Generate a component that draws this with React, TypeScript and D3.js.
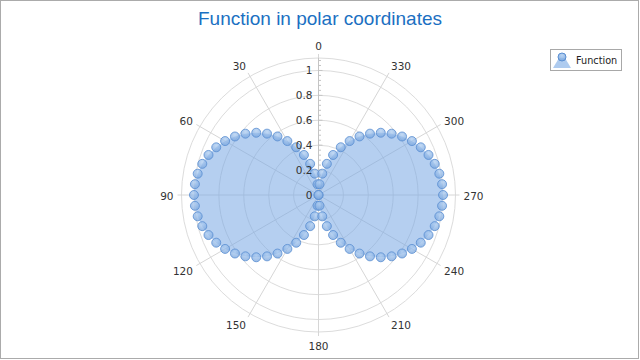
import React from "react";
import * as d3 from "d3";

const angles: number[] = [
  0, 5, 10, 15, 20, 25, 30, 35, 40, 45, 50, 55, 60, 65, 70, 75, 80, 85,
  90, 95, 100, 105, 110, 115, 120, 125, 130, 135, 140, 145, 150, 155, 160, 165, 170, 175,
  180, 185, 190, 195, 200, 205, 210, 215, 220, 225, 230, 235, 240, 245, 250, 255, 260, 265,
  270, 275, 280, 285, 290, 295, 300, 305, 310, 315, 320, 325, 330, 335, 340, 345, 350, 355,
];
const values: number[] = [
  0, 0.087, 0.174, 0.259, 0.342, 0.423, 0.5, 0.574, 0.643, 0.707, 0.766, 0.819, 0.866, 0.906, 0.94, 0.966, 0.985, 0.996,
  1, 0.996, 0.985, 0.966, 0.94, 0.906, 0.866, 0.819, 0.766, 0.707, 0.643, 0.574, 0.5, 0.423, 0.342, 0.259, 0.174, 0.087,
  0, 0.087, 0.174, 0.259, 0.342, 0.423, 0.5, 0.574, 0.643, 0.707, 0.766, 0.819, 0.866, 0.906, 0.94, 0.966, 0.985, 0.996,
  1, 0.996, 0.985, 0.966, 0.94, 0.906, 0.866, 0.819, 0.766, 0.707, 0.643, 0.574, 0.5, 0.423, 0.342, 0.259, 0.174, 0.087,
];
const angleTicks: number[] = [0, 30, 60, 90, 120, 150, 180, 210, 240, 270, 300, 330];
const radialTicks: number[] = [0, 0.2, 0.4, 0.6, 0.8, 1];
const gridCircles: number[] = [0.2, 0.4, 0.6, 0.8, 1, 1.1];
const title = "Function in polar coordinates";
const seriesName = "Function";

const W = 640;
const H = 360;
const cx = 318.5;
const cy = 195;
const R = 137;

export default function App() {
  const r = d3.scaleLinear().domain([0, 1.1]).range([0, R]);
  const toRad = (deg: number) => (deg * Math.PI) / 180;
  const px = (deg: number, rv: number) => cx - rv * Math.sin(toRad(deg));
  const py = (deg: number, rv: number) => cy - rv * Math.cos(toRad(deg));

  const pts = angles.map((a, i) => ({ a, v: values[i] }));
  const area = d3
    .lineRadial<{ a: number; v: number }>()
    .angle((d) => -toRad(d.a))
    .radius((d) => r(d.v))
    .curve(d3.curveLinearClosed);

  const minorTicks = d3.range(0, 1.1001, 0.04);
  const font = "'DejaVu Sans', Verdana, sans-serif";

  return (
    <div style={{ position: "fixed", left: 0, top: 0 }}>
      <svg width={W} height={H} style={{ display: "block" }}>
        <defs>
          <radialGradient id="pg" cx="50%" cy="30%" r="70%">
            <stop offset="0%" stopColor="#aecdf1" />
            <stop offset="100%" stopColor="#74a2dc" />
          </radialGradient>
        </defs>
        <rect x={0.5} y={0.5} width={638} height={358} fill="#ffffff" stroke="#ababab" />
        <text
          x={320}
          y={25}
          textAnchor="middle"
          fontFamily="'Liberation Sans', Arial, sans-serif"
          fontSize={19}
          fill="#1b70c2"
        >
          {title}
        </text>

        {gridCircles.map((g) => (
          <circle key={g} cx={cx} cy={cy} r={r(g)} fill="none" stroke="#dcdcdc" strokeWidth={1} />
        ))}
        {angleTicks.map((a) => (
          <line
            key={a}
            x1={cx}
            y1={cy}
            x2={px(a, R + 4)}
            y2={py(a, R + 4)}
            stroke="#d6d6d6"
            strokeWidth={1}
          />
        ))}
        <line x1={cx} y1={cy} x2={cx} y2={cy - R} stroke="#c4c4c4" />
        {minorTicks.map((t, i) => (
          <line
            key={i}
            x1={cx}
            y1={cy - r(t)}
            x2={cx + (i % 5 === 0 ? 4 : 2.5)}
            y2={cy - r(t)}
            stroke="#c4c4c4"
          />
        ))}

        <path
          d={area(pts) || ""}
          transform={`translate(${cx},${cy})`}
          fill="rgb(120,168,228)"
          fillOpacity={0.55}
          stroke="none"
        />
        {pts.map((d, i) => (
          <circle
            key={i}
            cx={px(d.a, r(d.v))}
            cy={py(d.a, r(d.v))}
            r={4.5}
            fill="url(#pg)"
            fillOpacity={0.75}
            stroke="#5a8fd2"
            strokeOpacity={0.8}
            strokeWidth={1}
          />
        ))}

        {radialTicks.map((t) => (
          <text
            key={t}
            x={cx - 6}
            y={cy - r(t) + 4}
            textAnchor="end"
            fontFamily={font}
            fontSize={10.5}
            fill="#333333"
          >
            {String(t)}
          </text>
        ))}

        {angleTicks.map((a) => {
          const s = Math.sin(toRad(a));
          const c = Math.cos(toRad(a));
          const anchor = s > 0.1 ? "end" : s < -0.1 ? "start" : "middle";
          const x = px(a, R + 8);
          const y = py(a, R + 8) + 4.5 - 5 * c;
          return (
            <text key={a} x={x} y={y} textAnchor={anchor} fontFamily={font} fontSize={10.5} fill="#333333">
              {String(a)}
            </text>
          );
        })}

        <rect x={550.5} y={49.5} width={71} height={21} fill="#ffffff" stroke="#a8a8a8" />
        <path d="M553,68 L571,68 L565,58 L559,58 Z" fill="rgb(120,168,228)" fillOpacity={0.6} />
        <circle cx={562} cy={57} r={4} fill="url(#pg)" fillOpacity={0.85} stroke="#5a8fd2" />
        <text x={576} y={64} fontFamily={font} fontSize={9.7} fill="#222222">
          {seriesName}
        </text>
      </svg>
    </div>
  );
}
